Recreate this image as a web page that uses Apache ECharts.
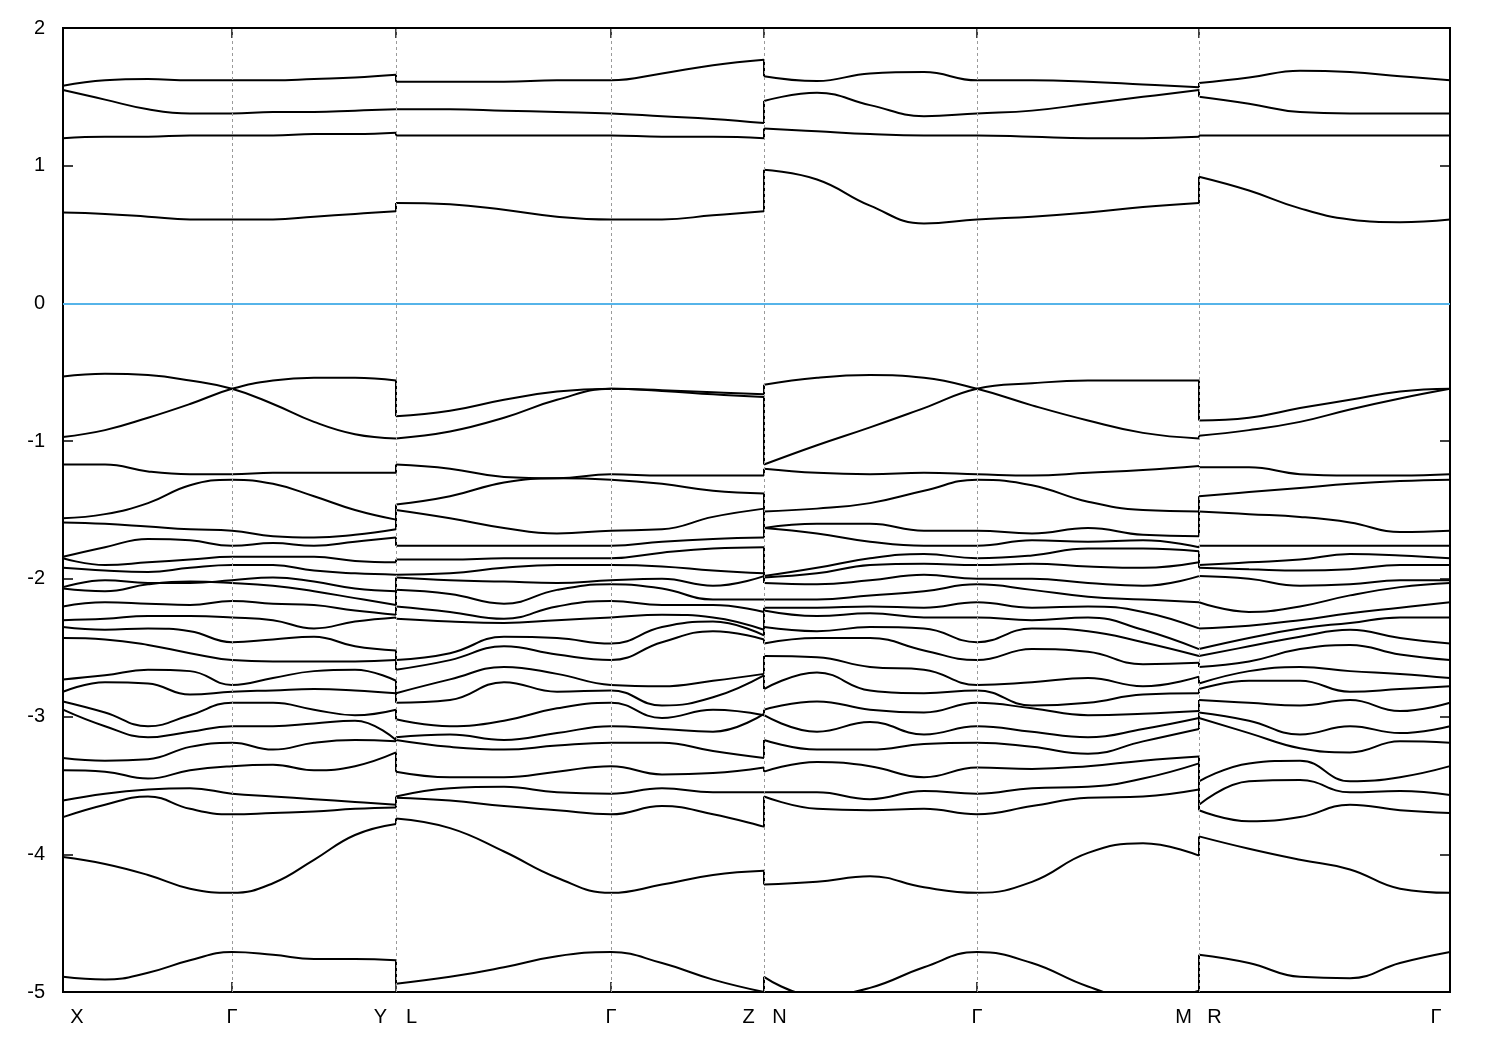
<!DOCTYPE html>
<html><head><meta charset="utf-8">
<script src="https://cdn.jsdelivr.net/npm/echarts@6/dist/echarts.min.js"></script>
<style>html,body{margin:0;padding:0;background:#fff}#chart{width:1500px;height:1050px}</style>
</head><body><div id="chart"></div>
<script>
// High-symmetry points along the k-path (arbitrary k-distance units)
const symLabels = ['X', 'Γ', 'Y|L', 'Γ', 'Z|N', 'Γ', 'M|R', 'Γ'];
const symK = [0, 1.69, 3.33, 5.48, 7.01, 9.14, 11.36, 13.87];
const yTicks = [-5, -4, -3, -2, -1, 0, 1, 2];

// ---- Segment 1: X - Γ - Y ----
const kS1 = [0, 0.42, 0.85, 1.27, 1.69, 2.10, 2.51, 2.92, 3.33];
const condS1 = [
  [1.58, 1.62, 1.63, 1.62, 1.62, 1.62, 1.63, 1.64, 1.66],
  [1.55, 1.48, 1.41, 1.38, 1.38, 1.39, 1.39, 1.40, 1.41],
  [1.20, 1.21, 1.21, 1.22, 1.22, 1.22, 1.23, 1.23, 1.24],
  [0.66, 0.65, 0.63, 0.61, 0.61, 0.61, 0.63, 0.65, 0.67]
];
const valS1 = [
  [-0.53, -0.51, -0.52, -0.56, -0.62, -0.73, -0.86, -0.95, -0.98],
  [-0.97, -0.92, -0.83, -0.73, -0.62, -0.56, -0.54, -0.54, -0.56],
  [-1.17, -1.17, -1.22, -1.24, -1.24, -1.23, -1.23, -1.23, -1.23],
  [-1.56, -1.53, -1.45, -1.32, -1.28, -1.31, -1.40, -1.50, -1.57],
  [-1.59, -1.60, -1.62, -1.64, -1.65, -1.69, -1.70, -1.68, -1.64],
  [-1.84, -1.77, -1.71, -1.72, -1.76, -1.74, -1.76, -1.73, -1.70],
  [-1.85, -1.90, -1.88, -1.86, -1.84, -1.84, -1.84, -1.87, -1.88],
  [-1.92, -1.94, -1.95, -1.92, -1.90, -1.90, -1.94, -1.96, -1.97],
  [-2.06, -2.01, -2.03, -2.03, -2.01, -1.99, -2.02, -2.07, -2.09],
  [-2.07, -2.09, -2.04, -2.02, -2.03, -2.05, -2.09, -2.14, -2.19],
  [-2.20, -2.17, -2.18, -2.19, -2.16, -2.18, -2.19, -2.23, -2.26],
  [-2.30, -2.29, -2.27, -2.27, -2.28, -2.30, -2.36, -2.31, -2.28],
  [-2.35, -2.37, -2.36, -2.38, -2.46, -2.44, -2.42, -2.49, -2.52],
  [-2.43, -2.44, -2.48, -2.54, -2.59, -2.60, -2.60, -2.60, -2.59],
  [-2.73, -2.70, -2.66, -2.67, -2.77, -2.72, -2.67, -2.66, -2.74],
  [-2.82, -2.75, -2.76, -2.84, -2.82, -2.81, -2.80, -2.81, -2.83],
  [-2.89, -2.97, -3.07, -2.99, -2.90, -2.90, -2.95, -2.99, -2.95],
  [-2.95, -3.07, -3.15, -3.11, -3.07, -3.07, -3.05, -3.03, -3.17],
  [-3.30, -3.32, -3.31, -3.22, -3.19, -3.24, -3.19, -3.17, -3.18],
  [-3.39, -3.40, -3.45, -3.39, -3.36, -3.35, -3.39, -3.36, -3.26],
  [-3.61, -3.56, -3.53, -3.52, -3.56, -3.58, -3.60, -3.62, -3.64],
  [-3.73, -3.64, -3.58, -3.67, -3.71, -3.70, -3.69, -3.67, -3.66],
  [-4.02, -4.07, -4.15, -4.25, -4.28, -4.21, -4.04, -3.86, -3.78],
  [-4.89, -4.91, -4.86, -4.77, -4.71, -4.73, -4.76, -4.76, -4.77]
];

// ---- Segment 2: L - Γ - Z ----
const kS2 = [3.33, 3.87, 4.41, 4.94, 5.48, 5.99, 6.50, 7.01];
const condS2 = [
  [1.61, 1.61, 1.61, 1.62, 1.62, 1.67, 1.73, 1.77],
  [1.41, 1.41, 1.40, 1.39, 1.38, 1.36, 1.34, 1.31],
  [1.22, 1.22, 1.22, 1.22, 1.22, 1.21, 1.21, 1.20],
  [0.73, 0.72, 0.68, 0.63, 0.61, 0.61, 0.64, 0.67]
];
const valS2 = [
  [-0.82, -0.78, -0.70, -0.64, -0.62, -0.63, -0.645, -0.66],
  [-0.98, -0.93, -0.83, -0.70, -0.62, -0.635, -0.66, -0.68],
  [-1.17, -1.20, -1.26, -1.27, -1.24, -1.25, -1.25, -1.25],
  [-1.46, -1.40, -1.30, -1.27, -1.28, -1.31, -1.36, -1.38],
  [-1.50, -1.56, -1.63, -1.67, -1.65, -1.64, -1.55, -1.49],
  [-1.76, -1.76, -1.76, -1.76, -1.76, -1.73, -1.71, -1.70],
  [-1.86, -1.86, -1.85, -1.85, -1.85, -1.81, -1.78, -1.77],
  [-1.97, -1.96, -1.92, -1.90, -1.90, -1.91, -1.94, -1.96],
  [-1.99, -2.01, -2.02, -2.03, -2.01, -2.00, -2.05, -1.98],
  [-2.08, -2.11, -2.18, -2.08, -2.04, -2.07, -2.15, -2.15],
  [-2.20, -2.24, -2.29, -2.20, -2.16, -2.19, -2.19, -2.24],
  [-2.29, -2.31, -2.32, -2.30, -2.28, -2.26, -2.28, -2.37],
  [-2.59, -2.54, -2.42, -2.43, -2.47, -2.35, -2.31, -2.41],
  [-2.66, -2.59, -2.49, -2.55, -2.59, -2.46, -2.38, -2.44],
  [-2.83, -2.73, -2.64, -2.69, -2.77, -2.78, -2.74, -2.69],
  [-2.90, -2.88, -2.75, -2.82, -2.81, -2.92, -2.86, -2.70],
  [-3.02, -3.07, -3.03, -2.94, -2.90, -3.01, -2.95, -2.99],
  [-3.15, -3.13, -3.17, -3.12, -3.07, -3.09, -3.11, -2.98],
  [-3.17, -3.22, -3.24, -3.21, -3.19, -3.19, -3.25, -3.30],
  [-3.40, -3.44, -3.44, -3.40, -3.36, -3.42, -3.41, -3.37],
  [-3.58, -3.52, -3.51, -3.55, -3.56, -3.52, -3.55, -3.55],
  [-3.59, -3.61, -3.65, -3.68, -3.71, -3.65, -3.71, -3.80],
  [-3.74, -3.81, -3.98, -4.17, -4.28, -4.22, -4.15, -4.12],
  [-4.94, -4.89, -4.82, -4.74, -4.71, -4.79, -4.91, -5.00]
];

// ---- Segment 3: N - Γ - M ----
const kS3 = [7.01, 7.54, 8.07, 8.61, 9.14, 9.69, 10.25, 10.80, 11.36];
const condS3 = [
  [1.65, 1.615, 1.67, 1.68, 1.62, 1.62, 1.61, 1.59, 1.57],
  [1.47, 1.53, 1.44, 1.36, 1.38, 1.40, 1.45, 1.50, 1.55],
  [1.27, 1.25, 1.23, 1.22, 1.22, 1.21, 1.20, 1.20, 1.21],
  [0.97, 0.90, 0.71, 0.58, 0.61, 0.63, 0.66, 0.70, 0.73]
];
const valS3 = [
  [-0.59, -0.54, -0.52, -0.54, -0.62, -0.74, -0.85, -0.94, -0.98],
  [-1.17, -1.03, -0.90, -0.76, -0.62, -0.58, -0.56, -0.56, -0.56],
  [-1.20, -1.23, -1.24, -1.23, -1.24, -1.25, -1.23, -1.21, -1.18],
  [-1.51, -1.49, -1.45, -1.36, -1.28, -1.32, -1.44, -1.50, -1.51],
  [-1.63, -1.60, -1.60, -1.65, -1.65, -1.67, -1.63, -1.68, -1.69],
  [-1.63, -1.67, -1.73, -1.76, -1.76, -1.72, -1.73, -1.72, -1.77],
  [-1.98, -1.92, -1.85, -1.82, -1.85, -1.83, -1.78, -1.78, -1.80],
  [-1.99, -1.96, -1.90, -1.89, -1.90, -1.89, -1.91, -1.92, -1.88],
  [-2.03, -2.04, -2.01, -1.97, -2.00, -2.00, -2.03, -2.05, -1.98],
  [-2.15, -2.15, -2.12, -2.09, -2.04, -2.08, -2.13, -2.15, -2.17],
  [-2.21, -2.21, -2.20, -2.21, -2.17, -2.21, -2.20, -2.24, -2.36],
  [-2.23, -2.27, -2.25, -2.28, -2.28, -2.30, -2.28, -2.37, -2.51],
  [-2.35, -2.38, -2.35, -2.36, -2.46, -2.36, -2.38, -2.46, -2.56],
  [-2.47, -2.43, -2.43, -2.52, -2.59, -2.51, -2.53, -2.62, -2.61],
  [-2.56, -2.57, -2.64, -2.66, -2.77, -2.75, -2.72, -2.78, -2.71],
  [-2.80, -2.68, -2.81, -2.83, -2.81, -2.92, -2.90, -2.84, -2.83],
  [-2.95, -2.89, -2.95, -2.97, -2.90, -2.94, -2.99, -2.98, -2.96],
  [-2.99, -3.11, -3.04, -3.13, -3.07, -3.11, -3.15, -3.09, -3.01],
  [-3.17, -3.24, -3.24, -3.20, -3.19, -3.22, -3.27, -3.18, -3.09],
  [-3.40, -3.33, -3.36, -3.44, -3.37, -3.38, -3.36, -3.32, -3.29],
  [-3.55, -3.55, -3.60, -3.54, -3.56, -3.52, -3.51, -3.45, -3.34],
  [-3.58, -3.67, -3.68, -3.67, -3.71, -3.65, -3.59, -3.58, -3.53],
  [-4.22, -4.20, -4.16, -4.24, -4.28, -4.20, -3.99, -3.92, -4.01],
  [-4.89, -5.03, -4.97, -4.82, -4.71, -4.79, -4.96, -5.06, -4.99]
];

// ---- Segment 4: R - Γ ----
const kS4 = [11.36, 11.86, 12.37, 12.87, 13.37, 13.87];
const condS4 = [
  [1.60, 1.64, 1.69, 1.68, 1.65, 1.62],
  [1.50, 1.45, 1.39, 1.38, 1.38, 1.38],
  [1.22, 1.22, 1.22, 1.22, 1.22, 1.22],
  [0.92, 0.82, 0.69, 0.61, 0.59, 0.61]
];
const valS4 = [
  [-0.85, -0.83, -0.76, -0.70, -0.64, -0.62],
  [-0.96, -0.92, -0.86, -0.77, -0.69, -0.62],
  [-1.19, -1.19, -1.24, -1.25, -1.25, -1.24],
  [-1.40, -1.37, -1.34, -1.31, -1.29, -1.28],
  [-1.51, -1.53, -1.55, -1.59, -1.66, -1.65],
  [-1.76, -1.76, -1.76, -1.76, -1.76, -1.76],
  [-1.90, -1.88, -1.86, -1.82, -1.83, -1.85],
  [-1.92, -1.93, -1.94, -1.93, -1.90, -1.90],
  [-1.98, -2.00, -2.05, -2.04, -2.01, -2.01],
  [-2.17, -2.24, -2.20, -2.12, -2.06, -2.03],
  [-2.36, -2.34, -2.30, -2.25, -2.21, -2.17],
  [-2.51, -2.43, -2.36, -2.32, -2.28, -2.28],
  [-2.56, -2.49, -2.42, -2.37, -2.43, -2.47],
  [-2.64, -2.60, -2.51, -2.48, -2.55, -2.59],
  [-2.76, -2.67, -2.64, -2.67, -2.69, -2.72],
  [-2.80, -2.74, -2.74, -2.82, -2.80, -2.78],
  [-2.88, -2.90, -2.92, -2.88, -2.96, -2.90],
  [-2.97, -3.03, -3.13, -3.07, -3.12, -3.07],
  [-3.01, -3.12, -3.23, -3.26, -3.18, -3.19],
  [-3.47, -3.34, -3.32, -3.47, -3.44, -3.36],
  [-3.64, -3.47, -3.46, -3.55, -3.54, -3.57],
  [-3.68, -3.76, -3.73, -3.64, -3.68, -3.70],
  [-3.87, -3.96, -4.04, -4.11, -4.25, -4.28],
  [-4.73, -4.79, -4.89, -4.90, -4.79, -4.71]
];

// ---------------------------------------------------------------
const segments = [
  { k: kS1, bands: condS1.concat(valS1) },
  { k: kS2, bands: condS2.concat(valS2) },
  { k: kS3, bands: condS3.concat(valS3) },
  { k: kS4, bands: condS4.concat(valS4) }
];

const FONT = 'Liberation Sans, Arial, sans-serif';
const series = [];
function lineSeries(data, smooth) {
  return {
    type: 'line', data: data, showSymbol: false, symbol: 'none',
    smooth: smooth ? 0.45 : false,
    lineStyle: { color: '#000', width: 2 }, silent: true, z: 3, clip: true
  };
}
segments.forEach(function (seg) {
  seg.bands.forEach(function (b) {
    series.push(lineSeries(b.map(function (e, i) { return [seg.k[i], e]; }), true));
  });
});
// vertical jumps at path discontinuities (connect sorted band ends to sorted band starts)
for (let s = 0; s < segments.length - 1; s++) {
  const a = segments[s], b = segments[s + 1];
  const kb = b.k[0];
  const ends = a.bands.map(function (v) { return v[v.length - 1]; }).sort(function (x, y) { return y - x; });
  const starts = b.bands.map(function (v) { return v[0]; }).sort(function (x, y) { return y - x; });
  for (let i = 0; i < Math.min(ends.length, starts.length); i++) {
    if (Math.abs(ends[i] - starts[i]) > 0.004) series.push(lineSeries([[kb, ends[i]], [kb, starts[i]]], false));
  }
}
// reference lines: Fermi level and high-symmetry verticals
series.push({
  type: 'line', data: [], silent: true, z: 1,
  markLine: {
    silent: true, symbol: ['none', 'none'], label: { show: false }, animation: false,
    data: [{ yAxis: 0, lineStyle: { color: '#56b4e9', width: 2, type: 'solid' } }].concat(
      symK.slice(1, symK.length - 1).map(function (k) {
        return { xAxis: k, lineStyle: { color: '#9a9a9a', width: 1, type: [3, 3] } };
      }))
  }
});

function xLabel(v) {
  let idx = 0, best = 1e9;
  symK.forEach(function (k, i) { if (Math.abs(k - v) < best) { best = Math.abs(k - v); idx = i; } });
  const lab = symLabels[idx];
  if (idx === 0) return '{sp|}{c|' + lab + '}';
  if (idx === symK.length - 1) return '{c|' + lab + '}{sp|}';
  if (lab.indexOf('|') >= 0) { const p = lab.split('|'); return '{c|' + p[0] + '}{c|' + p[1] + '}'; }
  return '{c|' + lab + '}';
}

const chart = echarts.init(document.getElementById('chart'), null, { renderer: 'canvas' });
chart.setOption({
  animation: false,
  backgroundColor: '#fff',
  grid: { left: 63, right: 50, top: 28, bottom: 58, containLabel: false, show: true, borderColor: '#000', borderWidth: 2, backgroundColor: 'transparent' },
  xAxis: [
    {
      type: 'value', min: symK[0], max: symK[symK.length - 1], position: 'bottom',
      axisLine: { show: false, onZero: false }, splitLine: { show: false },
      axisTick: { show: true, inside: true, length: 10, customValues: symK, lineStyle: { color: '#000', width: 1.5 } },
      axisLabel: {
        show: true, customValues: symK, margin: 15, color: '#000', fontSize: 20, fontFamily: FONT,
        formatter: xLabel,
        rich: { c: { width: 31, align: 'center', fontSize: 20, fontFamily: FONT, color: '#000' }, sp: { width: 28 } }
      }
    },
    {
      type: 'value', min: symK[0], max: symK[symK.length - 1], position: 'top',
      axisLine: { show: false, onZero: false }, splitLine: { show: false }, axisLabel: { show: false },
      axisTick: { show: true, inside: true, length: 10, customValues: symK, lineStyle: { color: '#000', width: 1.5 } }
    }
  ],
  yAxis: [
    {
      type: 'value', min: yTicks[0], max: yTicks[yTicks.length - 1], interval: 1, position: 'left',
      axisLine: { show: false, onZero: false }, splitLine: { show: false },
      axisTick: { show: true, inside: true, length: 10, lineStyle: { color: '#000', width: 1.5 } },
      axisLabel: { show: true, margin: 18, color: '#000', fontSize: 20, fontFamily: FONT }
    },
    {
      type: 'value', min: yTicks[0], max: yTicks[yTicks.length - 1], interval: 1, position: 'right',
      axisLine: { show: false, onZero: false }, splitLine: { show: false }, axisLabel: { show: false },
      axisTick: { show: true, inside: true, length: 10, lineStyle: { color: '#000', width: 1.5 } }
    }
  ],
  series: series
});
</script>
</body></html>
